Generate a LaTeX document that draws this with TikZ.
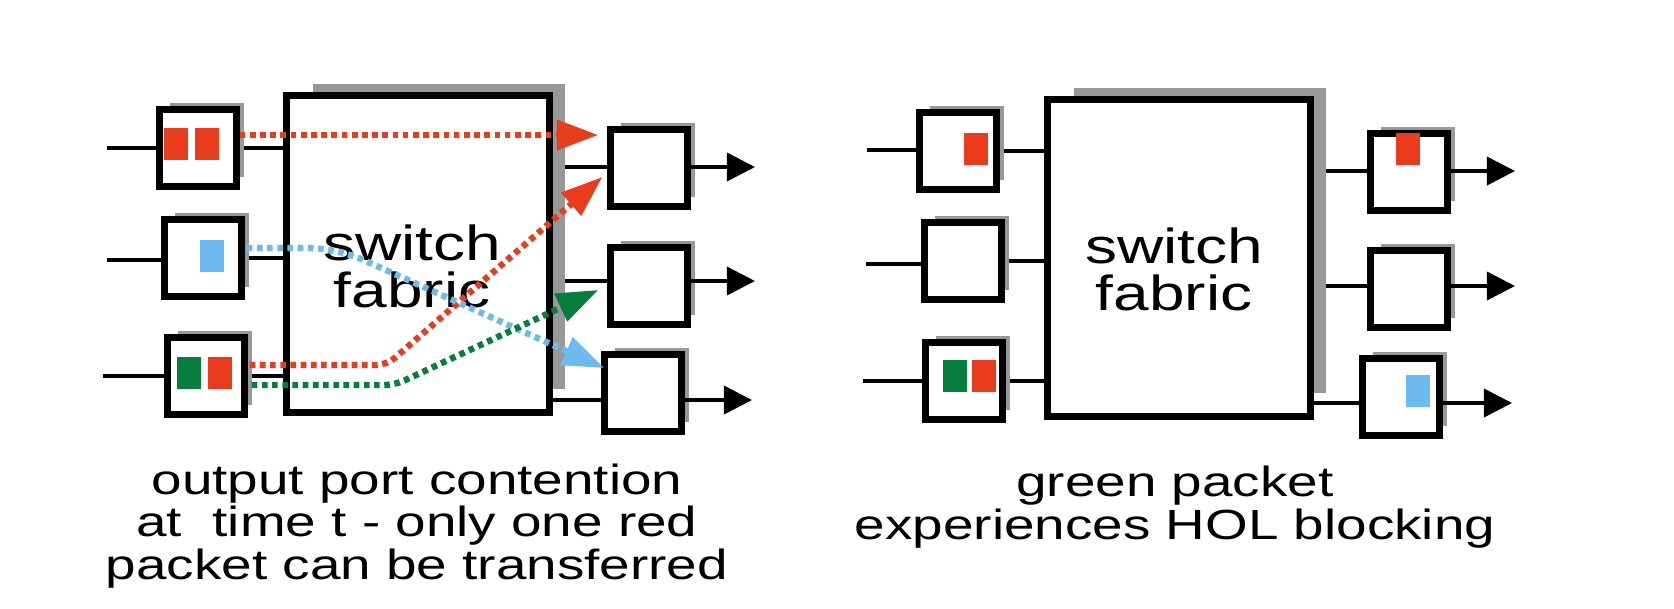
\documentclass[tikz,border=0pt]{standalone}
\usepackage{fontspec}
\setmainfont[FakeStretch=1.3]{Liberation Sans}
\usetikzlibrary{arrows.meta, shadows, backgrounds}
\definecolor{pktred}{RGB}{233,60,28}
\definecolor{pktgreen}{RGB}{8,126,62}
\definecolor{pktblue}{RGB}{108,186,240}
\definecolor{shadowgray}{RGB}{152,152,152}

\tikzset{
  port/.style={draw, line width=1.8pt, fill=white, minimum size=0.77cm, inner sep=0pt,
    drop shadow={shadow xshift=2.8pt, shadow yshift=2.4pt, shadow scale=0.96, fill=shadowgray, opacity=1}},
  fabric/.style={draw, line width=1.9pt, fill=white, minimum width=2.63cm, minimum height=3.17cm,
    drop shadow={shadow xshift=6.2pt, shadow yshift=5.2pt, shadow scale=0.96, fill=shadowgray, opacity=1}},
  pkt/.style={minimum width=0.24cm, minimum height=0.32cm, inner sep=0pt},
  wire/.style={line width=1pt},
  outwire/.style={wire, -{Triangle[length=8pt, width=8pt]}},
  flow/.style={line width=1.8pt, dash pattern=on 1.6pt off 1.3pt, rounded corners=3pt,
    -{Triangle[length=11.8pt, width=8.3pt]}},
  fabtext/.style={font=\fontsize{14}{13.4}\selectfont, align=center},
  note/.style={font=\fontsize{12}{12.2}\selectfont, align=center}
}

\begin{document}
\begin{tikzpicture}[x=0.01cm, y=-0.01cm]

  \useasboundingbox (0,0) rectangle (1674,608);

  % left: output port contention
  \node[port] (li1) at (198,148) {};
  \node[port] (li2) at (203,258) {};
  \node[port] (li3) at (206,376) {};
  \node[fabric] (lfab) at (418,254) {};
  \node[port] (lo1) at (649,168) {};
  \node[port] (lo2) at (649,286) {};
  \node[port] (lo3) at (643,393) {};

  \node[pkt, fill=pktred] (lp1) at (176,144) {};
  \node[pkt, fill=pktred] (lp2) at (207,144) {};
  \node[pkt, fill=pktblue] (lp3) at (212,256) {};
  \node[pkt, fill=pktgreen] (lp4) at (189,373) {};
  \node[pkt, fill=pktred] (lp5) at (220,373) {};

  \coordinate (la1) at (107,148);
  \coordinate (la2) at (107,260);
  \coordinate (la3) at (103,376);
  \coordinate (lt1) at (755,167);
  \coordinate (lt2) at (755,281);
  \coordinate (lt3) at (752,400);

  % right: HOL blocking
  \node[port] (ri1) at (958,151) {};
  \node[port] (ri2) at (963,261) {};
  \node[port] (ri3) at (964,381) {};
  \node[fabric] (rfab) at (1179,258) {};
  \node[port] (ro1) at (1409,172) {};
  \node[port] (ro2) at (1409,289) {};
  \node[port] (ro3) at (1401,397) {};

  \node[pkt, fill=pktred] (rp1) at (976,149) {};
  \node[pkt, fill=pktgreen] (rp2) at (955,376) {};
  \node[pkt, fill=pktred] (rp3) at (984,376) {};
  \node[pkt, fill=pktred] (rp4) at (1408,149) {};
  \node[pkt, fill=pktblue] (rp5) at (1418,391) {};

  \coordinate (ra1) at (867,150);
  \coordinate (ra2) at (866,264);
  \coordinate (ra3) at (863,381);
  \coordinate (rt1) at (1515,171);
  \coordinate (rt2) at (1515,286);
  \coordinate (rt3) at (1512,403);

  \begin{scope}[on background layer]
    \draw[wire] (la1) -- (la1 -| li1.west);
    \draw[wire] (la2) -- (la2 -| li2.west);
    \draw[wire] (la3) -- (la3 -| li3.west);
    \draw[wire] (li1.east) -- (li1.east -| lfab.west);
    \draw[wire] (li2.east) -- (li2.east -| lfab.west);
    \draw[wire] (li3.east) -- (li3.east -| lfab.west);
    \draw[wire] (lfab.east |- lt1) -- (lt1 -| lo1.west);
    \draw[wire] (lfab.east |- lt2) -- (lt2 -| lo2.west);
    \draw[wire] (lfab.east |- lt3) -- (lt3 -| lo3.west);

    \draw[wire] (ra1) -- (ra1 -| ri1.west);
    \draw[wire] (ra2) -- (ra2 -| ri2.west);
    \draw[wire] (ra3) -- (ra3 -| ri3.west);
    \draw[wire] (ri1.east) -- (ri1.east -| rfab.west);
    \draw[wire] (ri2.east) -- (ri2.east -| rfab.west);
    \draw[wire] (ri3.east) -- (ri3.east -| rfab.west);
    \draw[wire] (rfab.east |- rt1) -- (rt1 -| ro1.west);
    \draw[wire] (rfab.east |- rt2) -- (rt2 -| ro2.west);
    \draw[wire] (rfab.east |- rt3) -- (rt3 -| ro3.west);
  \end{scope}

  \draw[outwire] (lt1 -| lo1.east) -- (lt1);
  \draw[outwire] (lt2 -| lo2.east) -- (lt2);
  \draw[outwire] (lt3 -| lo3.east) -- (lt3);
  \draw[outwire] (rt1 -| ro1.east) -- (rt1);
  \draw[outwire] (rt2 -| ro2.east) -- (rt2);
  \draw[outwire] (rt3 -| ro3.east) -- (rt3);

  \node[fabtext] (ltext) at (412,266) {switch\\fabric};
  \node[fabtext] (rtext) at (1174,269) {switch\\fabric};

  % packets crossing the fabric
  \draw[flow, pktred] ([shift={(0,-13)}]li1.east) -- ([shift={(-9,-33)}]lo1.west);
  \draw[flow, pktred] ([shift={(2,-11)}]li3.east) -- ++(137,0) -- ([shift={(-5,9)}]lo1.west);
  \draw[flow, pktblue, rounded corners=8pt] ([shift={(2,-10)}]li2.east) -- ++(90,0) -- ([shift={(3,-25)}]lo3.west);
  \draw[flow, pktgreen] ([shift={(4,9)}]li3.east) -- ++(143,0) -- ([shift={(-9,4)}]lo2.west);

  \node[note] (lcap) at (417,526) {output port contention\\at~ time t - only one red\\packet can be transferred};
  \node[note] (rcap) at (1175,507) {green packet\\experiences HOL blocking};

\end{tikzpicture}
\end{document}
